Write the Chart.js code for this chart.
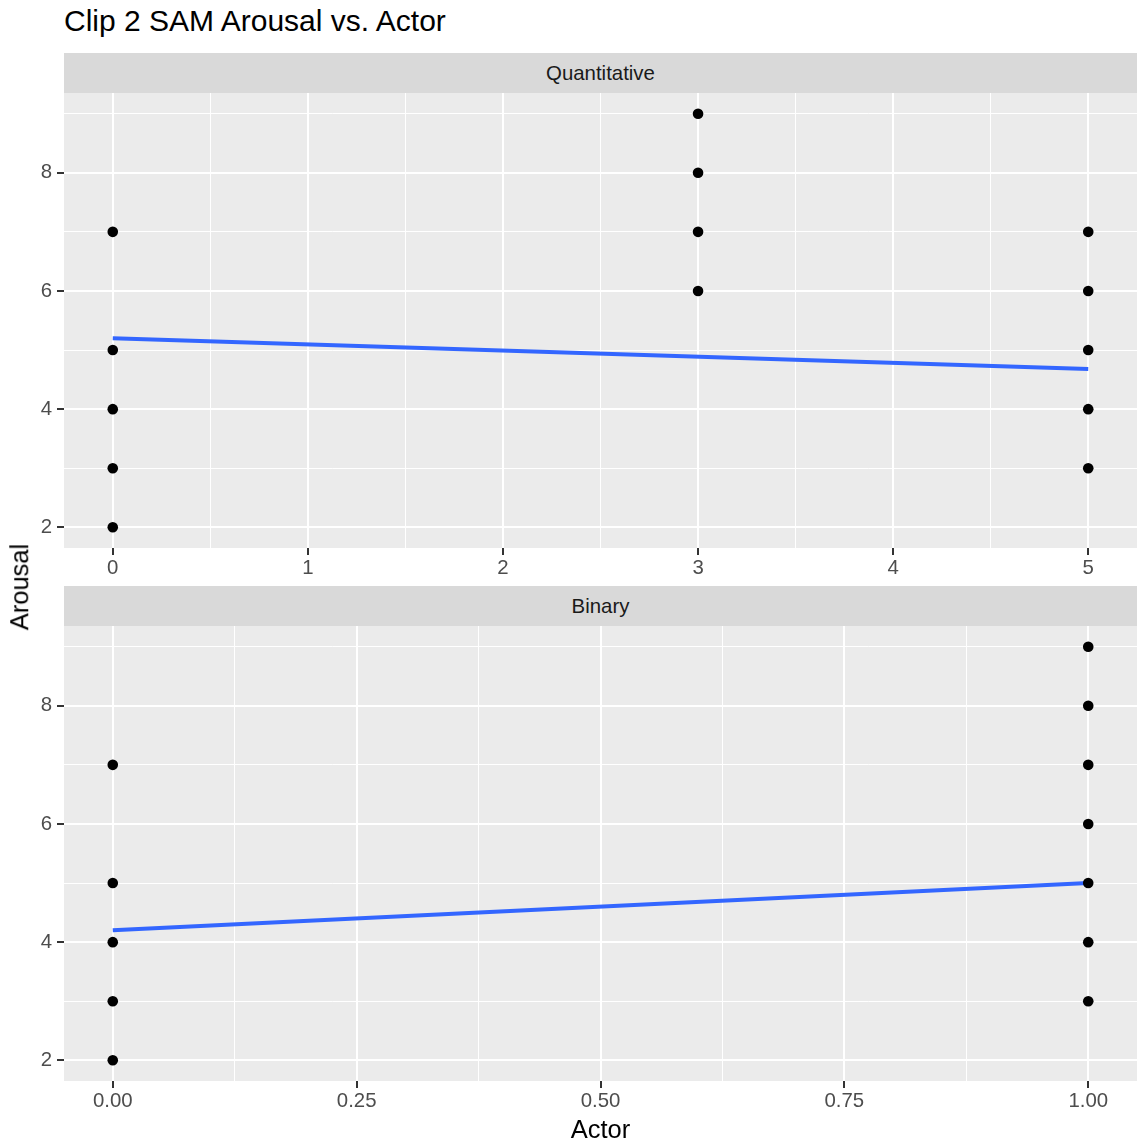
<!DOCTYPE html>
<html lang="en">
  <head>
    <meta charset="UTF-8" />
    <title>Clip 2 SAM Arousal vs. Actor</title>
    <style>
      body { margin: 0; background: #fff; font-family: "Liberation Sans", Arial, sans-serif; }
      #page { position: relative; width: 1139px; height: 1144px; overflow: hidden; }
      .txt { position: absolute; line-height: 1; white-space: nowrap; }
      .strip { position: absolute; left: 64px; width: 1073px; height: 40px; background: #d9d9d9;
               color: #1a1a1a; font-size: 20.4px; display: flex; align-items: center; justify-content: center; }
      .panel { position: absolute; left: 0; width: 1139px; height: 495px; }
    </style>
  </head>
  <body>
    <div id="page">
      <div class="txt" style="left:64px; top:6px; font-size:30px; color:#000">Clip 2 SAM Arousal vs. Actor</div>
      <div class="strip" style="top:53px">Quantitative</div>
      <div class="panel" style="top:93px"><canvas id="quant"></canvas></div>
      <div class="strip" style="top:586px">Binary</div>
      <div class="panel" style="top:626px"><canvas id="binary"></canvas></div>
      <div class="txt" style="left:600.5px; top:1116.5px; font-size:25.5px; transform:translateX(-50%)">Actor</div>
      <div class="txt" style="left:19.5px; top:587px; font-size:25.5px; transform:translate(-50%,-50%) rotate(-90deg)">Arousal</div>
    </div>
  </body>
  <script src="https://cdn.jsdelivr.net/npm/chart.js"></script>
  <script>
    // points
    var quantX = [0, 0, 0, 0, 0, 3, 3, 3, 3, 5, 5, 5, 5, 5];
    var quantY = [7, 5, 4, 3, 2, 9, 8, 7, 6, 7, 6, 5, 4, 3];
    var binX = [0, 0, 0, 0, 0, 1, 1, 1, 1, 1, 1, 1];
    var binY = [7, 5, 4, 3, 2, 9, 8, 7, 6, 5, 4, 3];

    // fitted lines (lm), ends at data range
    var quantFitX = [0, 5];
    var quantFitY = [5.2, 4.68];
    var binFitX = [0, 1];
    var binFitY = [4.2, 5.0];

    // axis breaks
    var quantXMajor = [0, 1, 2, 3, 4, 5];
    var quantXMinor = [0.5, 1.5, 2.5, 3.5, 4.5];
    var binXMajor = [0, 0.25, 0.5, 0.75, 1];
    var binXMinor = [0.125, 0.375, 0.625, 0.875];
    var yMajor = [2, 4, 6, 8];
    var yMinor = [3, 5, 7, 9];

    function pts(xs, ys) {
      return xs.map((x, i) => ({ x: x, y: ys[i] }));
    }

    const panelBg = {
      id: "panelBg",
      beforeDraw(chart) {
        const a = chart.chartArea;
        const ctx = chart.ctx;
        ctx.save();
        ctx.fillStyle = "#ebebeb";
        ctx.fillRect(a.left, a.top, a.right - a.left, a.bottom - a.top);
        ctx.restore();
      },
    };

    function axis(major, minor, fmt, min, max, isX) {
      const all = major.concat(minor).sort((a, b) => a - b);
      const isMajor = (v) => major.some((m) => Math.abs(m - v) < 1e-9);
      return {
        type: "linear",
        position: isX ? "bottom" : "left",
        min: min,
        max: max,
        afterBuildTicks: (s) => {
          s.ticks = all.map((v) => ({ value: v }));
        },
        afterFit: (s) => {
          if (isX) s.height = 40;
          else s.width = 64;
          s.paddingTop = 0;
          s.paddingBottom = 0;
          s.paddingLeft = 0;
          s.paddingRight = 0;
        },
        border: { display: false },
        grid: {
          color: "#ffffff",
          lineWidth: (c) => (isMajor(c.tick.value) ? 2 : 1),
          drawTicks: true,
          tickLength: 7,
          tickWidth: 2,
          tickColor: (c) => (isMajor(c.tick.value) ? "#333333" : "rgba(0,0,0,0)"),
        },
        ticks: {
          autoSkip: false,
          maxRotation: 0,
          padding: isX ? 1 : 5,
          color: "#4d4d4d",
          font: { family: "Liberation Sans, Arial, sans-serif", size: 20.4 },
          callback: (v) => (isMajor(v) ? fmt(v) : ""),
        },
      };
    }

    function makePanel(id, xs, ys, fx, fy, xMajor, xMinor, xFmt, xMin, xMax) {
      new Chart(document.getElementById(id), {
        type: "scatter",
        data: {
          datasets: [
            {
              data: pts(xs, ys),
              pointRadius: 5.3,
              pointBackgroundColor: "#000",
              pointBorderWidth: 0,
              pointHoverRadius: 5.3,
            },
            {
              type: "line",
              data: pts(fx, fy),
              borderColor: "#3366ff",
              borderWidth: 4,
              pointRadius: 0,
              fill: false,
            },
          ],
        },
        options: {
          responsive: true,
          maintainAspectRatio: false,
          animation: false,
          layout: { autoPadding: false, padding: { left: 0, right: 2, top: 0, bottom: 0 } },
          plugins: { legend: { display: false }, tooltip: { enabled: false } },
          scales: {
            x: axis(xMajor, xMinor, xFmt, xMin, xMax, true),
            y: axis(yMajor, yMinor, (v) => String(v), 1.65, 9.35, false),
          },
        },
        plugins: [panelBg],
      });
    }

    makePanel("quant", quantX, quantY, quantFitX, quantFitY, quantXMajor, quantXMinor,
      (v) => String(v), -0.25, 5.25);
    makePanel("binary", binX, binY, binFitX, binFitY, binXMajor, binXMinor,
      (v) => v.toFixed(2), -0.05, 1.05);
  </script>
</html>
